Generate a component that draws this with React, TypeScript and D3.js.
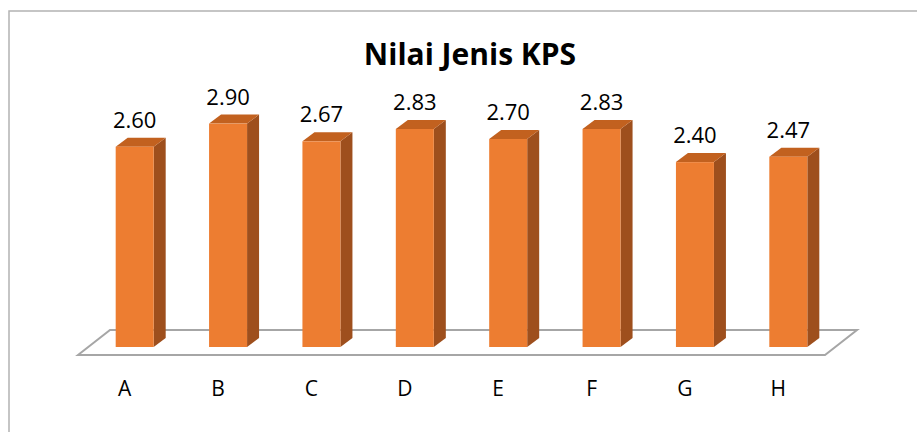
import React from "react";
import { scaleBand, scaleLinear } from "d3";

const categories = ["A", "B", "C", "D", "E", "F", "G", "H"];
const values = [2.6, 2.9, 2.67, 2.83, 2.7, 2.83, 2.4, 2.47];
const valueLabels = ["2.60", "2.90", "2.67", "2.83", "2.70", "2.83", "2.40", "2.47"];
const title = "Nilai Jenis KPS";

const W = 917;
const H = 432;
const font = "'Open Sans', Lato, sans-serif";

// floor (front edge) and depth offsets
const floorY = 355;
const floorDx = 32;
const floorDy = -25;
const barDx = 12;
const barDy = -9;

const App = () => {
  const x = scaleBand<string>()
    .domain(categories)
    .range([78, 825])
    .paddingInner(0.593)
    .paddingOuter(0.2965);

  // value axis sits on the bar base (mid floor)
  const baseY = floorY - (floorDy / 2 - barDy / 2) * -1;
  const y = scaleLinear().domain([0, 3]).range([baseY, baseY - 231.1]);

  const shiftX = floorDx / 2 - barDx / 2;
  const [x0, x1] = x.range();

  const floor = [
    [x0, floorY],
    [x0 + floorDx, floorY + floorDy],
    [x1 + floorDx, floorY + floorDy],
    [x1, floorY],
  ]
    .map((p) => p.join(","))
    .join(" ");

  return (
    <svg
      width={W}
      height={H}
      style={{ position: "absolute", left: 0, top: 0, background: "#fff" }}
    >
      <rect x={9} y={11} width={W + 20} height={H + 20} fill="#fff" stroke="#b3b3b3" strokeWidth={1.5} />
      <text
        x={470}
        y={65}
        textAnchor="middle"
        fontFamily={font}
        fontWeight="bold"
        fontSize={30}
        fill="#000"
      >
        {title}
      </text>

      <polygon points={floor} fill="#fff" stroke="#a6a6a6" strokeWidth={2} />

      {categories.map((c, i) => {
        const left = (x(c) as number) + shiftX;
        const w = x.bandwidth();
        const top = y(values[i]);
        const bottom = y(0);
        const side = [
          [left + w, top],
          [left + w + barDx, top + barDy],
          [left + w + barDx, bottom + barDy],
          [left + w, bottom],
        ]
          .map((p) => p.join(","))
          .join(" ");
        const cap = [
          [left, top],
          [left + barDx, top + barDy],
          [left + w + barDx, top + barDy],
          [left + w, top],
        ]
          .map((p) => p.join(","))
          .join(" ");
        return (
          <g key={c}>
            <polygon points={side} fill="#9e4f1d" />
            <polygon points={cap} fill="#c2611f" />
            <rect x={left} y={top} width={w} height={bottom - top} fill="#ed7d31" />
            <text
              x={left + w / 2}
              y={top - 19}
              textAnchor="middle"
              fontFamily={font}
              fontSize={22}
              fill="#000"
            >
              {valueLabels[i]}
            </text>
            <text
              x={(x(c) as number) + w / 2}
              y={396}
              textAnchor="middle"
              fontFamily={font}
              fontSize={21}
              fill="#000"
            >
              {c}
            </text>
          </g>
        );
      })}
    </svg>
  );
};

export default App;
